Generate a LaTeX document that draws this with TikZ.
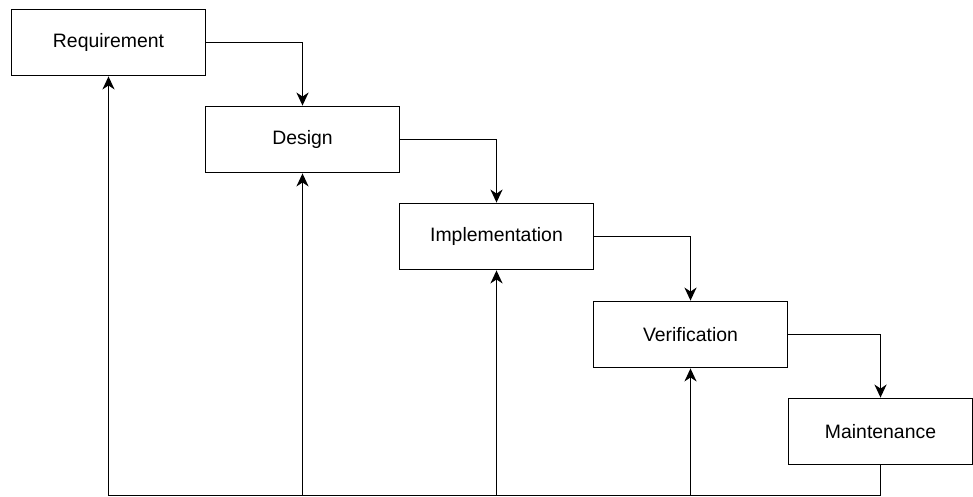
\documentclass[tikz,border=0pt]{standalone}
\usepackage{fontspec}
\setmainfont{Liberation Sans}
\usepackage{tikz}
\usetikzlibrary{
  positioning,
  arrows.meta,
  calc
}
\tikzset{
  % Phase box
  phase/.style={
    rectangle,
    draw=black,
    line width=1.8pt,
    minimum width=194pt,
    minimum height=66pt,
    inner sep=0pt,
    font=\fontsize{19.4}{23}\selectfont
  },
  % Flow arrow
  flow/.style={
    draw=black,
    line width=1.8pt,
    -{Stealth[length=13pt,width=12pt,inset=4pt]}
  },
  % Feedback line
  back/.style={
    draw=black,
    line width=1.8pt
  }
}

\begin{document}
\begin{tikzpicture}[x=1pt,y=-1pt]
  \useasboundingbox (0,0) rectangle (973,496);
  % Phases
  \node[phase] (req) at (108.5,42.5) {Requirement};
  \node[phase] (des) at (302.5,139.5) {Design};
  \node[phase] (imp) at (496.5,236.5) {Implementation};
  \node[phase] (ver) at (690.5,334.5) {Verification};
  \node[phase, minimum width=184pt] (mai) at (880.5,431.5) {Maintenance};
  % Forward flow
  \draw[flow] (req.east) -| (des.north);
  \draw[flow] (des.east) -| (imp.north);
  \draw[flow] (imp.east) -| (ver.north);
  \draw[flow] (ver.east) -| (mai.north);
  % Feedback
  \coordinate (bot) at (108.5,495.5);
  \draw[back] (mai.south) |- (bot);
  \foreach \n in {req,des,imp,ver} {
    \draw[flow] (\n.south |- bot) -- (\n.south);
  }
\end{tikzpicture}
\end{document}
